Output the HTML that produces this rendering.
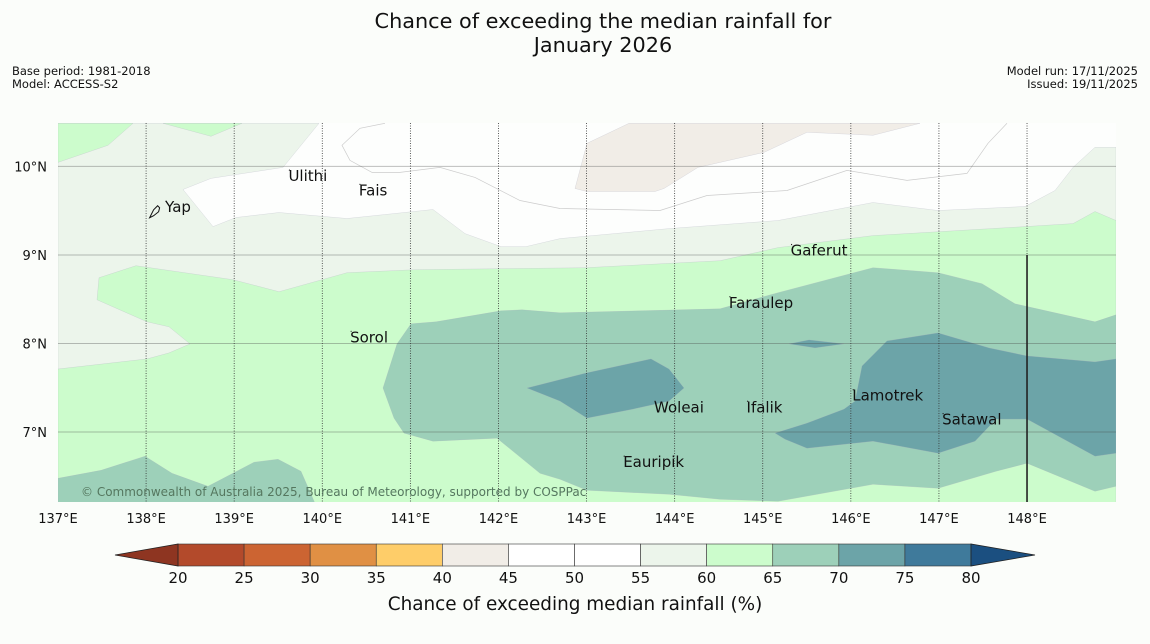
<!DOCTYPE html>
<html><head><meta charset="utf-8"><style>
html,body{margin:0;padding:0;background:#fbfdfa;}
body{width:1150px;height:644px;overflow:hidden;font-family:"DejaVu Sans","Liberation Sans",sans-serif;}
</style></head><body>
<svg id="chart" width="1150" height="644" xmlns="http://www.w3.org/2000/svg" font-family="DejaVu Sans, Liberation Sans, sans-serif" style="display:block">
<rect width="1150" height="644" fill="#fbfdfa"/>
<text x="603" y="28" text-anchor="middle" font-size="20.8" fill="#111">Chance of exceeding the median rainfall for</text>
<text x="603" y="52" text-anchor="middle" font-size="20.8" fill="#111">January 2026</text>
<text x="12" y="75" font-size="11.5" fill="#111">Base period: 1981-2018</text>
<text x="12" y="88" font-size="11.5" fill="#111">Model: ACCESS-S2</text>
<text x="1138" y="75" text-anchor="end" font-size="11.5" fill="#111">Model run: 17/11/2025</text>
<text x="1138" y="88" text-anchor="end" font-size="11.5" fill="#111">Issued: 19/11/2025</text>
<g id="map"></g>
<g id="cbar"></g>
</svg>
<script>
// Axis ticks
const lonTicks=[137,138,139,140,141,142,143,144,145,146,147,148];
const latTicks=[7,8,9,10];
// Colorbar levels and colors
const cbLevels=[20,25,30,35,40,45,50,55,60,65,70,75,80];
const cbColors=["#b34a2b","#cc6432","#e09044","#fecd69","#f1ede7","#ffffff","#ffffff","#ecf5eb","#ccfccc","#9dd0b9","#6ca4a8","#3f7a9b"];
const cbLow="#8e3521", cbHigh="#1b4f80";
// Contour regions (pixel-read, converted to lon/lat)
const px=(x,y)=>[137+(x-58)/88.09,10-(y-166)/88.3];
const region55=[[58,123],[319,123],[283,167],[211,178],[183,189],[213,226],[236,217],[279,212],[347,218],[433,209],[465,233],[501,246],[526,246],[560,238],[669,228],[778,220],[873,202],[938,210],[1025,206],[1055,190],[1073,167],[1095,147],[1116,147],[1116,502],[58,502]].map(p=>px(...p));
const region60=[[58,368],[147,358],[169,352],[190,343],[169,326],[147,321],[97,299],[99,277],[136,265],[233,279],[279,291],[347,272],[415,269],[586,267],[720,260],[778,247],[873,235],[1025,226],[1073,223],[1095,211],[1116,220],[1116,502],[58,502]].map(p=>px(...p));
const region60b=[[58,123],[133,123],[108,145],[58,162]].map(p=>px(...p));
const region60c=[[163,123],[242,123],[211,136]].map(p=>px(...p));
const region40=[[587,143],[629,123],[920,123],[873,135],[807,132],[764,152],[698,167],[664,188],[655,191],[587,191],[575,188]].map(p=>px(...p));
const region65=[[411,323],[436,321],[501,310],[522,309],[560,312],[720,308],[778,292],[873,267],[938,272],[982,283],[1015,303],[1095,321],[1116,314],[1116,485],[1095,490],[1027,462],[996,470],[938,487],[873,483],[778,500],[720,498],[669,493],[587,489],[560,478],[540,472],[497,437],[433,440],[404,432],[394,417],[383,387],[397,343]].map(p=>px(...p));
const region65b=[[58,477],[101,469],[145,455],[172,472],[208,485],[254,461],[278,458],[301,470],[315,502],[58,502]].map(p=>px(...p));
const region70=[[527,387],[586,372],[651,358],[669,368],[684,387],[669,400],[633,408],[587,417],[560,400]].map(p=>px(...p));
const region70b=[[789,343],[809,339],[844,343],[815,347]].map(p=>px(...p));
const region70c=[[775,432],[807,422],[844,408],[855,400],[862,365],[887,340],[938,332],[989,347],[1027,355],[1095,361],[1116,358],[1116,452],[1095,455],[1027,418],[996,418],[975,440],[938,452],[873,440],[807,447],[785,438]].map(p=>px(...p));
const whiteLine=[[385,123],[360,128],[342,145],[350,160],[372,172],[400,172],[440,167],[475,177],[520,200],[560,208],[660,210],[707,195],[787,190],[847,170],[907,180],[967,173],[988,143],[1007,123]].map(p=>px(...p));
// Places [name, lon, lat]
const places=[["Yap",138.25,9.54],["Ulithi",139.65,9.89],["Fais",140.45,9.73],["Gaferut",145.35,9.05],["Faraulep",144.65,8.46],["Sorol",140.35,8.07],["Woleai",143.8,7.28],["Ifalik",144.85,7.28],["Lamotrek",146.05,7.41],["Satawal",147.07,7.14],["Eauripik",143.45,6.66]];

const NS="http://www.w3.org/2000/svg";
const X0=58,X1=1116,Y0=123,Y1=502,LON0=137,LON1=149.01,LAT0=6.21,LAT1=10.49;
const xS=lon=>X0+(lon-LON0)/(LON1-LON0)*(X1-X0);
const yS=lat=>Y1-(lat-LAT0)/(LAT1-LAT0)*(Y1-Y0);
function mk(tag,attrs,parent){const e=document.createElementNS(NS,tag);for(const k in attrs)e.setAttribute(k,attrs[k]);parent.appendChild(e);return e;}
const map=document.getElementById('map');
const defs=mk('defs',{},map);
const cp=mk('clipPath',{id:'clip'},defs);
mk('rect',{x:X0,y:Y0,width:X1-X0,height:Y1-Y0},cp);
const g=mk('g',{'clip-path':'url(#clip)'},map);
let bg=mk('rect',{x:X0,y:Y0,width:X1-X0,height:Y1-Y0,fill:'#fdfefd'},g);


const pts=a=>a.map(p=>xS(p[0]).toFixed(1)+','+yS(p[1]).toFixed(1)).join(' ');
function poly(arr,fill,name){const e=mk('polygon',{points:pts(arr),fill:fill,stroke:'#aab',"stroke-width":0.4,"stroke-opacity":0.5},g);

}
poly(region55,cbColors[7],'region-55-60');
poly(region60,cbColors[8],'region-60-65');
poly(region60b,cbColors[8],'region-60-65-nw');
poly(region60c,cbColors[8],'region-60-65-n');
poly(region40,cbColors[4],'region-40-45');
poly(region65,cbColors[9],'region-65-70');
poly(region65b,cbColors[9],'region-65-70-sw');
poly(region70,cbColors[10],'region-70-75-west');
poly(region70b,cbColors[10],'region-70-75-small');
poly(region70c,cbColors[10],'region-70-75-east');
let wl=mk('polyline',{points:pts(whiteLine),fill:'none',stroke:'#ccc',"stroke-width":0.7},g);


latTicks.forEach(l=>{const y=yS(l);
const ln=mk('line',{x1:X0,x2:X1,y1:y,y2:y,stroke:'#444',"stroke-opacity":0.35,"stroke-width":1},g);


const t=mk('text',{x:47,y:y+5,"text-anchor":"end","font-size":13,fill:'#111'},map);t.textContent=l+'°N';

});
lonTicks.forEach(l=>{const x=xS(l);
if(l>LON0){const ln=mk('line',{x1:x,x2:x,y1:Y0,y2:Y1,stroke:'#333',"stroke-width":0.8,"stroke-dasharray":"1,1.5"},g);

}
const t=mk('text',{x:x,y:523,"text-anchor":"middle","font-size":13,fill:'#111'},map);t.textContent=l+'°E';

});
let vl=mk('line',{x1:xS(148),x2:xS(148),y1:yS(9),y2:Y1,stroke:'#222',"stroke-width":1.6},g);


places.forEach(p=>{const x=xS(p[1]),y=yS(p[2]);
const d=mk('circle',{cx:x-2,cy:y-6,r:0.6,fill:'#222'},g);


const t=mk('text',{x:x-3,y:y+5,"font-size":15,fill:'#111'},g);t.textContent=p[0];

});
let yi=mk('path',{d:`M${xS(138.04)},${yS(9.42)} l4,-8 l4,-4 l2,2 l-1,4 l-5,4 z`,fill:'none',stroke:'#111',"stroke-width":1},g);


let cr=mk('text',{x:81,y:496,"font-size":12,fill:'#55775f'},g);cr.textContent='© Commonwealth of Australia 2025, Bureau of Meteorology, supported by COSPPac';


const cb=document.getElementById('cbar');
const C0=178,C1=971,CY=544,CH=22;
const cx=v=>C0+(v-cbLevels[0])/(cbLevels[cbLevels.length-1]-cbLevels[0])*(C1-C0);
cbColors.forEach((c,i)=>{const r=mk('rect',{x:cx(cbLevels[i]),y:CY,width:cx(cbLevels[i+1])-cx(cbLevels[i]),height:CH,fill:c,stroke:'#333',"stroke-width":0.6},cb);

});
let lt=mk('polygon',{points:`${C0},${CY} ${C0},${CY+CH} 115,${CY+CH/2}`,fill:cbLow,stroke:'#222',"stroke-width":0.8},cb);


let ht=mk('polygon',{points:`${C1},${CY} ${C1},${CY+CH} 1035,${CY+CH/2}`,fill:cbHigh,stroke:'#222',"stroke-width":0.8},cb);


cbLevels.forEach(v=>{const t=mk('text',{x:cx(v),y:583,"text-anchor":"middle","font-size":15,fill:'#111'},cb);t.textContent=v;

});
let ct=mk('text',{x:575,y:610,"text-anchor":"middle","font-size":18.4,fill:'#111'},cb);ct.textContent='Chance of exceeding median rainfall (%)';


</script>
</body></html>
